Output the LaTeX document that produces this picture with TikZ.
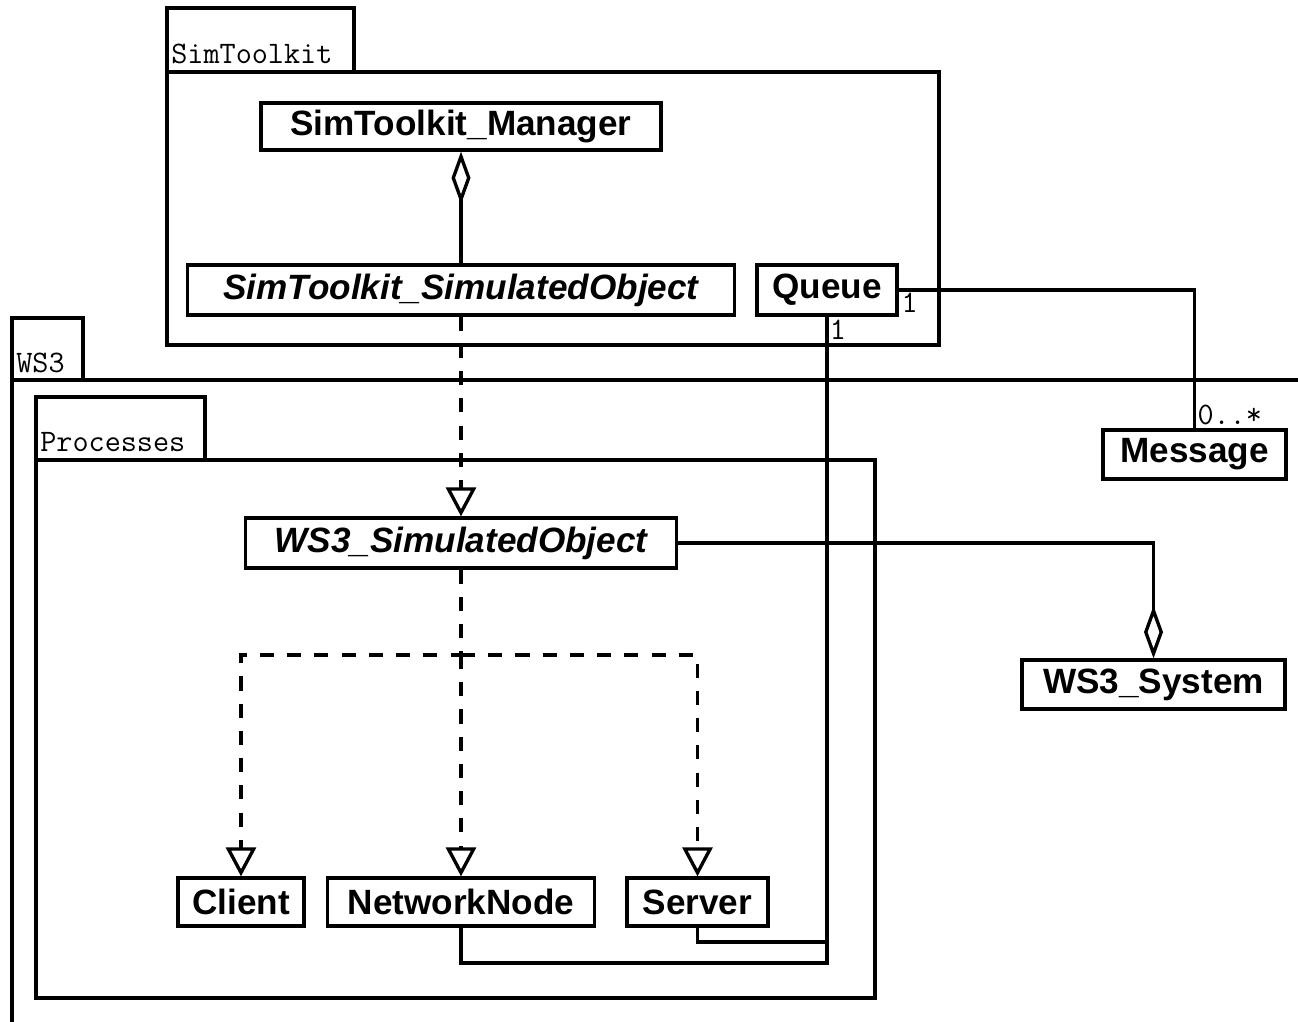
\documentclass[tikz,border=0pt]{standalone}
\usepackage{fontspec}
\setsansfont{Liberation Sans}
\usetikzlibrary{arrows.meta}

\begin{document}
\begin{tikzpicture}[x=0.02cm,y=-0.02cm,line join=miter,font=\sffamily]
  \tikzset{
    cls/.style={draw,line width=1.9pt,inner sep=0pt,font=\sffamily\bfseries\fontsize{20}{24}\selectfont},
    abstractcls/.style={cls,font=\sffamily\bfseries\itshape\fontsize{20}{24}\selectfont},
    pkg/.style={line width=1.9pt},
    pkgname/.style={font=\ttfamily\fontsize{17.8}{20}\selectfont,anchor=base west,inner sep=0pt},
    mult/.style={font=\ttfamily\fontsize{17.8}{20}\selectfont,inner sep=1.5pt},
    assoc/.style={line width=1.9pt},
    aggr/.style={line width=1.9pt,{Diamond[open,length=1.05cm,width=0.38cm]}-},
    realize/.style={line width=1.9pt,dash pattern=on 8pt off 7.5pt,-{Triangle[open,length=0.58cm,width=0.6cm]}}
  }
  \useasboundingbox (0,0) rectangle (1298,1021);
  \clip (0,0) rectangle (1298,1021);

  % Packages.
  \draw[pkg] (167,8) rectangle (354,72);
  \draw[pkg] (167,72) rectangle (939,345);
  \node[pkgname] (stkname) at (171,63) {SimToolkit};
  \draw[pkg] (12,318) rectangle (83,380);
  \draw[pkg] (12,380) rectangle (1340,1060);
  \node[pkgname] (wsname) at (16,372) {WS3};
  \draw[pkg] (36,397) rectangle (205,460);
  \draw[pkg] (36,460) rectangle (875,998);
  \node[pkgname] (procname) at (40,451) {Processes};

  % Classes.
  \node[cls,minimum width=8cm,minimum height=0.94cm] (manager) at (461,126.5) {SimToolkit\_Manager};
  \node[abstractcls,minimum width=10.94cm,minimum height=1cm] (stobj) at (461,290) {SimToolkit\_SimulatedObject};
  \node[cls,minimum width=2.8cm,minimum height=1cm] (queue) at (827,290) {Queue};
  \node[cls,minimum width=3.66cm,minimum height=0.98cm] (message) at (1194.5,454.5) {Message};
  \node[abstractcls,minimum width=8.62cm,minimum height=1cm] (wsobj) at (461,543) {WS3\_SimulatedObject};
  \node[cls,minimum width=5.26cm,minimum height=0.98cm] (system) at (1153.5,684.5) {WS3\_System};
  \node[cls,minimum width=2.52cm,minimum height=0.96cm] (client) at (241,902) {Client};
  \node[cls,minimum width=5.34cm,minimum height=0.96cm] (netnode) at (461,902) {NetworkNode};
  \node[cls,minimum width=2.82cm,minimum height=0.96cm] (server) at (697.5,902) {Server};

  % Connectors.
  \draw[aggr] (manager.south) -- (stobj.north);
  \draw[realize] (stobj.south) -- (wsobj.north);
  \coordinate (fork) at (461,655);
  \draw[realize] (wsobj.south) -- (fork) -| (client.north);
  \draw[realize] (fork) -- (netnode.north);
  \draw[realize] (fork) -| (server.north);
  \draw[aggr] (system.north) |- (wsobj.east);
  \draw[assoc] (queue.east) -| (message.north);
  \coordinate (qcorner) at (827,963);
  \coordinate (sjoin) at (827,942);
  \draw[assoc] (queue.south) -- (qcorner) -| (netnode.south);
  \draw[assoc] (server.south) |- (sjoin);

  % Multiplicities.
  \node[mult,anchor=north west] (mq1) at (queue.east) {1};
  \node[mult,anchor=north west] (mq2) at (queue.south) {1};
  \node[mult,anchor=south west] (mmsg) at (message.north) {0..*};
\end{tikzpicture}
\end{document}
